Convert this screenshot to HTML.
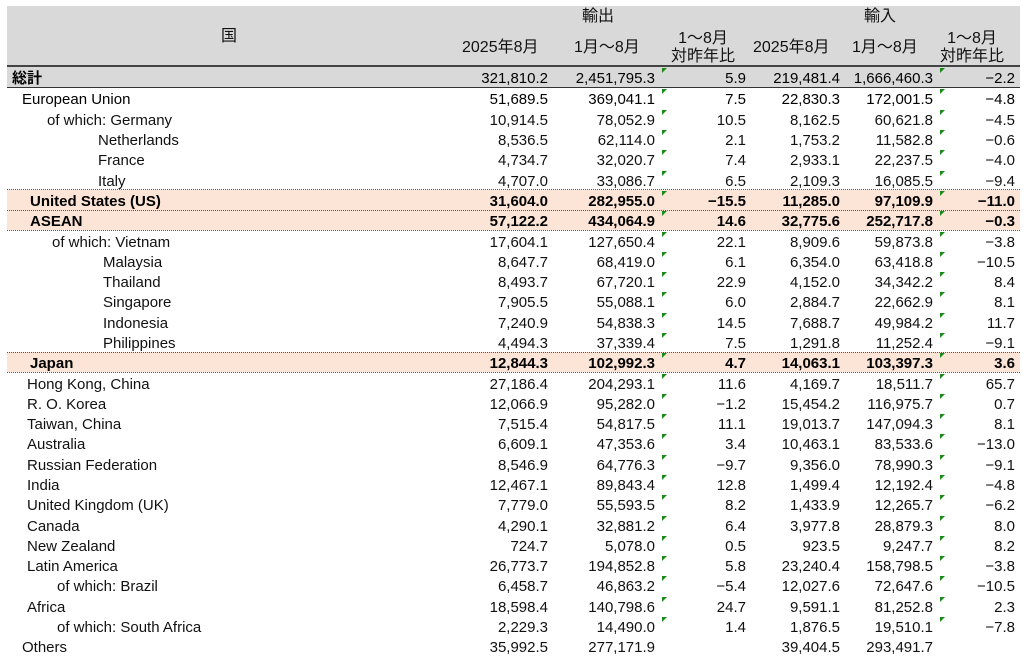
<!DOCTYPE html>
<html><head><meta charset="utf-8"><style>
body{margin:0;width:1024px;height:662px;background:#fff;position:relative;overflow:hidden;font-family:"Liberation Sans","Noto Sans CJK JP",sans-serif;font-size:15px;color:#111}
.hd{position:absolute;left:7px;top:6px;width:1013px;height:60px;background:#d9d9d9}
.t{position:absolute;white-space:nowrap;line-height:20px;font-size:16px}
.r{position:absolute;left:7px;width:1013px;height:20px}
.r span{position:absolute;top:2px;line-height:20px;white-space:nowrap}
.a{right:472px}.b{right:365px}.c{right:274px}.d{right:180px}.e{right:87px}.f{right:5px}
.hl{background:#fce4d6;font-weight:bold;color:#000}
.tot{background:#d9d9d9;color:#000}
.g{position:absolute;width:0;height:0;border-top:5px solid #1a8a1a;border-right:5px solid transparent}
.dot{position:absolute;left:7px;width:1013px;border-top:1px dotted #555}
</style></head><body>
<div class="hd"></div>
<div class="t" style="left:221px;top:27px">国</div>
<div class="t" style="left:582px;top:7px">輸出</div>
<div class="t" style="left:864px;top:7px">輸入</div>
<div class="t" style="left:462px;top:38px">2025年8月</div>
<div class="t" style="left:574px;top:38px">1月～8月</div>
<div class="t" style="left:671px;top:30px;line-height:18px;text-align:center">1～8月<br>対昨年比</div>
<div class="t" style="left:753px;top:38px">2025年8月</div>
<div class="t" style="left:852px;top:38px">1月～8月</div>
<div class="t" style="left:940px;top:30px;line-height:18px;text-align:center">1～8月<br>対昨年比</div>
<div style="position:absolute;left:7px;top:65px;width:1013px;border-top:2px solid #444"></div>

<div class="r tot" style="top:67px"><span style="left:5px;font-weight:bold">総計</span><span class="a">321,810.2</span><span class="b">2,451,795.3</span><span class="c">5.9</span><span class="d">219,481.4</span><span class="e">1,666,460.3</span><span class="f">−2.2</span></div>
<div style="position:absolute;left:7px;top:87px;width:1013px;border-top:1px solid #333"></div>

<div class="r" style="top:88px;color:#000"><span style="left:15px">European Union</span><span class="a">51,689.5</span><span class="b">369,041.1</span><span class="c">7.5</span><span class="d">22,830.3</span><span class="e">172,001.5</span><span class="f">−4.8</span></div>
<div class="r" style="top:109px"><span style="left:40px">of which: Germany</span><span class="a">10,914.5</span><span class="b">78,052.9</span><span class="c">10.5</span><span class="d">8,162.5</span><span class="e">60,621.8</span><span class="f">−4.5</span></div>
<div class="r" style="top:129px"><span style="left:91px">Netherlands</span><span class="a">8,536.5</span><span class="b">62,114.0</span><span class="c">2.1</span><span class="d">1,753.2</span><span class="e">11,582.8</span><span class="f">−0.6</span></div>
<div class="r" style="top:149px"><span style="left:91px">France</span><span class="a">4,734.7</span><span class="b">32,020.7</span><span class="c">7.4</span><span class="d">2,933.1</span><span class="e">22,237.5</span><span class="f">−4.0</span></div>
<div class="r" style="top:170px"><span style="left:91px">Italy</span><span class="a">4,707.0</span><span class="b">33,086.7</span><span class="c">6.5</span><span class="d">2,109.3</span><span class="e">16,085.5</span><span class="f">−9.4</span></div>
<div class="r hl" style="top:190px"><span style="left:23px">United States (US)</span><span class="a">31,604.0</span><span class="b">282,955.0</span><span class="c">−15.5</span><span class="d">11,285.0</span><span class="e">97,109.9</span><span class="f">−11.0</span></div>
<div class="r hl" style="top:210px"><span style="left:23px">ASEAN</span><span class="a">57,122.2</span><span class="b">434,064.9</span><span class="c">14.6</span><span class="d">32,775.6</span><span class="e">252,717.8</span><span class="f">−0.3</span></div>
<div class="dot" style="top:189px"></div><div class="dot" style="top:210px"></div><div class="dot" style="top:230px"></div>
<div class="r" style="top:231px"><span style="left:45px">of which: Vietnam</span><span class="a">17,604.1</span><span class="b">127,650.4</span><span class="c">22.1</span><span class="d">8,909.6</span><span class="e">59,873.8</span><span class="f">−3.8</span></div>
<div class="r" style="top:251px"><span style="left:96px">Malaysia</span><span class="a">8,647.7</span><span class="b">68,419.0</span><span class="c">6.1</span><span class="d">6,354.0</span><span class="e">63,418.8</span><span class="f">−10.5</span></div>
<div class="r" style="top:271px"><span style="left:96px">Thailand</span><span class="a">8,493.7</span><span class="b">67,720.1</span><span class="c">22.9</span><span class="d">4,152.0</span><span class="e">34,342.2</span><span class="f">8.4</span></div>
<div class="r" style="top:291px"><span style="left:96px">Singapore</span><span class="a">7,905.5</span><span class="b">55,088.1</span><span class="c">6.0</span><span class="d">2,884.7</span><span class="e">22,662.9</span><span class="f">8.1</span></div>
<div class="r" style="top:312px"><span style="left:96px">Indonesia</span><span class="a">7,240.9</span><span class="b">54,838.3</span><span class="c">14.5</span><span class="d">7,688.7</span><span class="e">49,984.2</span><span class="f">11.7</span></div>
<div class="r" style="top:332px"><span style="left:96px">Philippines</span><span class="a">4,494.3</span><span class="b">37,339.4</span><span class="c">7.5</span><span class="d">1,291.8</span><span class="e">11,252.4</span><span class="f">−9.1</span></div>
<div class="r hl" style="top:352px"><span style="left:23px">Japan</span><span class="a">12,844.3</span><span class="b">102,992.3</span><span class="c">4.7</span><span class="d">14,063.1</span><span class="e">103,397.3</span><span class="f">3.6</span></div>
<div class="dot" style="top:352px"></div><div class="dot" style="top:372px"></div>
<div class="r" style="top:373px"><span style="left:20px">Hong Kong, China</span><span class="a">27,186.4</span><span class="b">204,293.1</span><span class="c">11.6</span><span class="d">4,169.7</span><span class="e">18,511.7</span><span class="f">65.7</span></div>
<div class="r" style="top:393px"><span style="left:20px">R. O. Korea</span><span class="a">12,066.9</span><span class="b">95,282.0</span><span class="c">−1.2</span><span class="d">15,454.2</span><span class="e">116,975.7</span><span class="f">0.7</span></div>
<div class="r" style="top:413px"><span style="left:20px">Taiwan, China</span><span class="a">7,515.4</span><span class="b">54,817.5</span><span class="c">11.1</span><span class="d">19,013.7</span><span class="e">147,094.3</span><span class="f">8.1</span></div>
<div class="r" style="top:433px"><span style="left:20px">Australia</span><span class="a">6,609.1</span><span class="b">47,353.6</span><span class="c">3.4</span><span class="d">10,463.1</span><span class="e">83,533.6</span><span class="f">−13.0</span></div>
<div class="r" style="top:454px"><span style="left:20px">Russian Federation</span><span class="a">8,546.9</span><span class="b">64,776.3</span><span class="c">−9.7</span><span class="d">9,356.0</span><span class="e">78,990.3</span><span class="f">−9.1</span></div>
<div class="r" style="top:474px"><span style="left:20px">India</span><span class="a">12,467.1</span><span class="b">89,843.4</span><span class="c">12.8</span><span class="d">1,499.4</span><span class="e">12,192.4</span><span class="f">−4.8</span></div>
<div class="r" style="top:494px"><span style="left:20px">United Kingdom (UK)</span><span class="a">7,779.0</span><span class="b">55,593.5</span><span class="c">8.2</span><span class="d">1,433.9</span><span class="e">12,265.7</span><span class="f">−6.2</span></div>
<div class="r" style="top:515px"><span style="left:20px">Canada</span><span class="a">4,290.1</span><span class="b">32,881.2</span><span class="c">6.4</span><span class="d">3,977.8</span><span class="e">28,879.3</span><span class="f">8.0</span></div>
<div class="r" style="top:535px"><span style="left:20px">New Zealand</span><span class="a">724.7</span><span class="b">5,078.0</span><span class="c">0.5</span><span class="d">923.5</span><span class="e">9,247.7</span><span class="f">8.2</span></div>
<div class="r" style="top:555px"><span style="left:20px">Latin America</span><span class="a">26,773.7</span><span class="b">194,852.8</span><span class="c">5.8</span><span class="d">23,240.4</span><span class="e">158,798.5</span><span class="f">−3.8</span></div>
<div class="r" style="top:575px"><span style="left:50px">of which: Brazil</span><span class="a">6,458.7</span><span class="b">46,863.2</span><span class="c">−5.4</span><span class="d">12,027.6</span><span class="e">72,647.6</span><span class="f">−10.5</span></div>
<div class="r" style="top:596px"><span style="left:20px">Africa</span><span class="a">18,598.4</span><span class="b">140,798.6</span><span class="c">24.7</span><span class="d">9,591.1</span><span class="e">81,252.8</span><span class="f">2.3</span></div>
<div class="r" style="top:616px"><span style="left:50px">of which: South Africa</span><span class="a">2,229.3</span><span class="b">14,490.0</span><span class="c">1.4</span><span class="d">1,876.5</span><span class="e">19,510.1</span><span class="f">−7.8</span></div>
<div class="r" style="top:636px"><span style="left:15px">Others</span><span class="a">35,992.5</span><span class="b">277,171.9</span><span class="d">39,404.5</span><span class="e">293,491.7</span></div>

<div class="g" style="left:662px;top:68px"></div><div class="g" style="left:940px;top:68px"></div>
<div class="g" style="left:662px;top:89px"></div><div class="g" style="left:940px;top:89px"></div>
<div class="g" style="left:662px;top:110px"></div><div class="g" style="left:940px;top:110px"></div>
<div class="g" style="left:662px;top:130px"></div><div class="g" style="left:940px;top:130px"></div>
<div class="g" style="left:662px;top:150px"></div><div class="g" style="left:940px;top:150px"></div>
<div class="g" style="left:662px;top:171px"></div><div class="g" style="left:940px;top:171px"></div>
<div class="g" style="left:662px;top:191px"></div><div class="g" style="left:940px;top:191px"></div>
<div class="g" style="left:662px;top:211px"></div><div class="g" style="left:940px;top:211px"></div>
<div class="g" style="left:662px;top:232px"></div><div class="g" style="left:940px;top:232px"></div>
<div class="g" style="left:662px;top:252px"></div><div class="g" style="left:940px;top:252px"></div>
<div class="g" style="left:662px;top:272px"></div><div class="g" style="left:940px;top:272px"></div>
<div class="g" style="left:662px;top:292px"></div><div class="g" style="left:940px;top:292px"></div>
<div class="g" style="left:662px;top:313px"></div><div class="g" style="left:940px;top:313px"></div>
<div class="g" style="left:662px;top:333px"></div><div class="g" style="left:940px;top:333px"></div>
<div class="g" style="left:662px;top:353px"></div><div class="g" style="left:940px;top:353px"></div>
<div class="g" style="left:662px;top:374px"></div><div class="g" style="left:940px;top:374px"></div>
<div class="g" style="left:662px;top:394px"></div><div class="g" style="left:940px;top:394px"></div>
<div class="g" style="left:662px;top:414px"></div><div class="g" style="left:940px;top:414px"></div>
<div class="g" style="left:662px;top:434px"></div><div class="g" style="left:940px;top:434px"></div>
<div class="g" style="left:662px;top:455px"></div><div class="g" style="left:940px;top:455px"></div>
<div class="g" style="left:662px;top:475px"></div><div class="g" style="left:940px;top:475px"></div>
<div class="g" style="left:662px;top:495px"></div><div class="g" style="left:940px;top:495px"></div>
<div class="g" style="left:662px;top:516px"></div><div class="g" style="left:940px;top:516px"></div>
<div class="g" style="left:662px;top:536px"></div><div class="g" style="left:940px;top:536px"></div>
<div class="g" style="left:662px;top:556px"></div><div class="g" style="left:940px;top:556px"></div>
<div class="g" style="left:662px;top:576px"></div><div class="g" style="left:940px;top:576px"></div>
<div class="g" style="left:662px;top:597px"></div><div class="g" style="left:940px;top:597px"></div>
<div class="g" style="left:662px;top:617px"></div><div class="g" style="left:940px;top:617px"></div>
</body></html>
